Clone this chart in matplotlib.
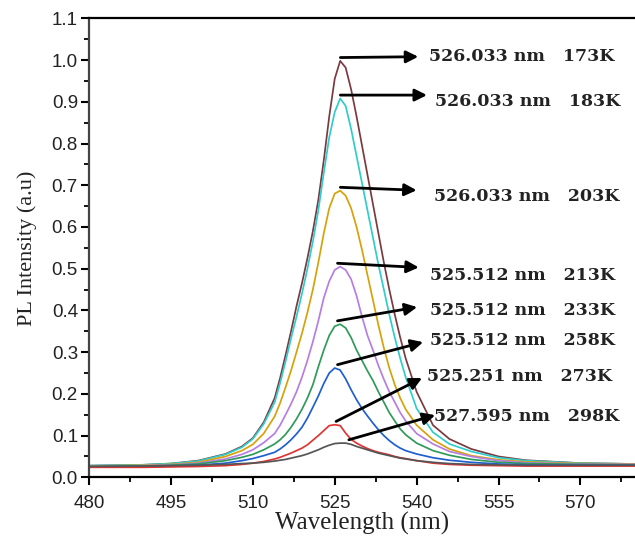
import matplotlib
matplotlib.use("Agg")
import matplotlib.pyplot as plt
from matplotlib.ticker import MultipleLocator, FormatStrFormatter

# PL spectra of the film at several temperatures, read point by point (a.u.)
WAVELENGTH = [480, 490, 495, 500, 505, 508, 510, 512, 514, 515, 516, 517, 518,
              519, 520, 521, 522, 523, 524, 525, 526, 527, 528, 529, 530, 531,
              532, 533, 534, 535, 536, 537, 538, 540, 543, 546, 550, 555, 560,
              570, 580]

PL_173K = [.028, .030, .033, .040, .056, .074, .094, .132, .190, .238, .293, .350,
           .410, .465, .525, .590, .665, .760, .865, .955, .998, .982, .930, .865,
           .795, .725, .655, .585, .515, .450, .390, .335, .285, .205, .125, .092,
           .068, .050, .041, .034, .032]
PL_183K = [.028, .030, .033, .039, .055, .072, .092, .128, .180, .226, .278, .333,
           .385, .440, .500, .565, .640, .730, .815, .875, .908, .890, .835, .770,
           .705, .640, .575, .510, .450, .390, .335, .285, .240, .165, .108, .080,
           .062, .047, .040, .034, .032]
PL_203K = [.027, .029, .031, .036, .050, .064, .079, .105, .146, .178, .216, .256,
           .300, .345, .395, .450, .515, .585, .645, .680, .687, .675, .645, .600,
           .545, .485, .425, .365, .310, .262, .222, .190, .163, .125, .090, .068,
           .052, .042, .037, .033, .032]
PL_213K = [.026, .028, .030, .034, .044, .055, .066, .083, .105, .125, .150, .176,
           .205, .240, .280, .325, .375, .430, .470, .497, .505, .497, .475, .435,
           .385, .340, .305, .268, .235, .205, .180, .155, .135, .105, .080, .062,
           .050, .040, .035, .032, .031]
PL_233K = [.026, .027, .029, .032, .040, .048, .055, .066, .080, .090, .103, .120,
           .140, .163, .190, .222, .265, .305, .340, .362, .367, .358, .335, .305,
           .280, .255, .232, .205, .180, .155, .135, .116, .102, .082, .064, .053,
           .043, .036, .033, .031, .030]
PL_258K = [.025, .026, .027, .029, .034, .040, .045, .052, .060, .068, .078, .090,
           .104, .120, .142, .168, .195, .225, .250, .262, .257, .236, .210, .186,
           .165, .147, .130, .114, .100, .088, .078, .070, .064, .056, .047, .041,
           .036, .032, .030, .029, .029]
PL_273K = [.024, .024, .025, .026, .028, .031, .034, .038, .044, .048, .053, .058,
           .064, .070, .078, .089, .100, .112, .124, .126, .124, .106, .091, .082,
           .075, .069, .064, .060, .057, .054, .050, .047, .045, .040, .034, .031,
           .029, .028, .027, .027, .027]
PL_298K = [.026, .027, .028, .029, .031, .033, .034, .036, .039, .041, .043, .046,
           .049, .052, .056, .061, .066, .072, .077, .081, .082, .082, .079, .074,
           .070, .066, .062, .058, .055, .052, .049, .046, .044, .040, .036, .033,
           .031, .030, .029, .029, .029]

TEMPS = [173, 183, 203, 213, 233, 258, 273, 298]
PEAK_NM = [526.033, 526.033, 526.033, 525.512, 525.512, 525.512, 525.251, 527.595]
SPECTRA = [PL_173K, PL_183K, PL_203K, PL_213K, PL_233K, PL_258K, PL_273K, PL_298K]

COLORS = ["#7a3a40", "#30cccc", "#d6a20a", "#b57ee0", "#2f9a5a", "#1f5fd0",
          "#e03434", "#555555"]

# arrow heads and label anchors (data coords), one per temperature
HEAD_XY = [(540.3, 1.008), (541.9, 0.916), (540.0, 0.688), (540.4, 0.503),
           (540.1, 0.408), (541.2, 0.324), (541.0, 0.238), (543.4, 0.149)]
TEXT_XY = [(542.2, 1.008), (543.4, 0.900), (543.1, 0.672), (542.5, 0.483),
           (542.5, 0.401), (542.5, 0.327), (541.9, 0.241), (543.2, 0.145)]

fig = plt.figure(figsize=(6.35, 5.42), dpi=100)
ax = fig.add_axes([0.1402, 0.1193, 0.8598, 0.8469])

for spec, col in zip(SPECTRA, COLORS):
    ax.plot(WAVELENGTH, spec, color=col, lw=1.25)

for nm, temp, spec, head, txt in zip(PEAK_NM, TEMPS, SPECTRA, HEAD_XY, TEXT_XY):
    ax.annotate("", xy=head, xytext=(nm, max(spec) + 0.008),
                arrowprops=dict(arrowstyle="-|>", color="black", lw=2.0,
                                mutation_scale=18, shrinkA=0, shrinkB=0))
    ax.text(txt[0], txt[1], f"{nm:.3f} nm   {temp}K", ha="left", va="center",
            fontsize=12.5, fontweight="bold", family="DejaVu Serif",
            color="#222222")

ax.set_xlim(480, 580)
ax.set_ylim(0, 1.1)
ax.xaxis.set_major_locator(MultipleLocator(15))
ax.xaxis.set_minor_locator(MultipleLocator(7.5))
ax.yaxis.set_major_locator(MultipleLocator(0.1))
ax.yaxis.set_minor_locator(MultipleLocator(0.05))
ax.yaxis.set_major_formatter(FormatStrFormatter("%.1f"))

ax.spines["right"].set_visible(False)
for side in ("left", "bottom", "top"):
    ax.spines[side].set_linewidth(1.6)
ax.spines["left"].set_color("#444444")

ax.tick_params(which="major", direction="out", length=6, width=1.5,
               labelsize=13.5, top=False, right=False)
ax.tick_params(which="minor", direction="out", length=3.5, width=1.3,
               top=False, right=False)
ax.tick_params(axis="x", which="major", pad=7)
ax.tick_params(axis="y", which="major", pad=2)
for lab in ax.get_xticklabels() + ax.get_yticklabels():
    lab.set_family("Liberation Sans")
    lab.set_color("#222222")

ax.set_xlabel("Wavelength (nm)", family="Liberation Serif", fontsize=18,
              color="#222222", va="top")
ax.xaxis.set_label_coords(0.5, -0.075)
ax.set_ylabel("PL Intensity (a.u)", family="Liberation Serif", fontsize=16,
              color="#222222")
ax.yaxis.set_label_coords(-0.095, 0.5)

fig.savefig("out.png", dpi=100)
